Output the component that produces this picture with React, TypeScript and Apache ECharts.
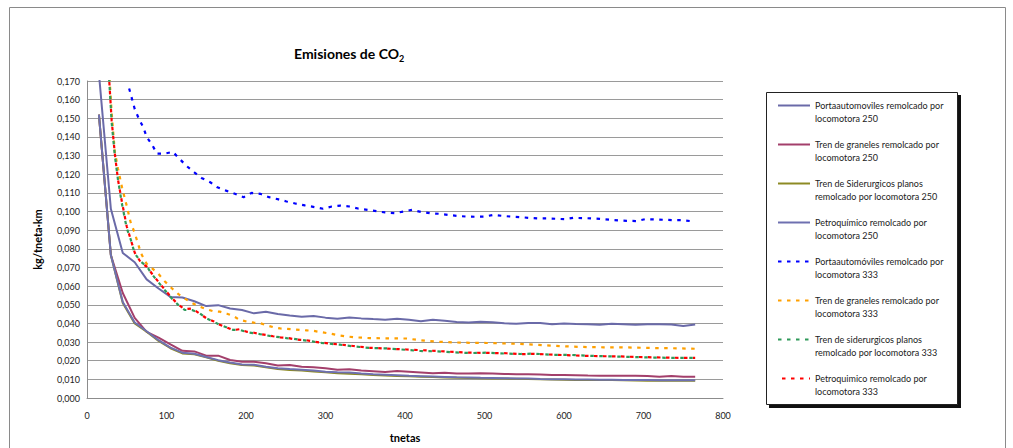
import React, { useEffect, useRef } from "react";
import * as echarts from "echarts";

// ---- data ----
const tnetas250 = [15, 30, 45, 60, 75, 90, 105, 120, 135, 150, 165, 180, 195, 210, 225, 240, 255, 270, 285, 300, 315, 330, 345, 360, 375, 390, 405, 420, 435, 450, 465, 480, 495, 510, 525, 540, 555, 570, 585, 600, 615, 630, 645, 660, 675, 690, 705, 720, 735, 750, 765];

const porta250 = [0.174, 0.1015, 0.0778, 0.0728, 0.0636, 0.0587, 0.0542, 0.0539, 0.0519, 0.0493, 0.0498, 0.048, 0.0472, 0.0454, 0.0463, 0.045, 0.0442, 0.0436, 0.044, 0.0431, 0.0425, 0.0432, 0.0427, 0.0423, 0.042, 0.0425, 0.042, 0.0412, 0.042, 0.0414, 0.0407, 0.0405, 0.0409, 0.0406, 0.0401, 0.0398, 0.0402, 0.0402, 0.0396, 0.04, 0.0397, 0.0396, 0.0393, 0.0398, 0.0396, 0.0393, 0.0396, 0.0396, 0.0394, 0.0386, 0.0394];

const graneles250 = [0.152, 0.0767, 0.0563, 0.043, 0.0355, 0.0324, 0.0288, 0.0253, 0.025, 0.0227, 0.0227, 0.0204, 0.0195, 0.0195, 0.0186, 0.0174, 0.0177, 0.0168, 0.0165, 0.016, 0.0152, 0.0154, 0.0148, 0.0144, 0.014, 0.0145, 0.0141, 0.0137, 0.0133, 0.0136, 0.0132, 0.0131, 0.0133, 0.0131, 0.0129, 0.0127, 0.0127, 0.0126, 0.0124, 0.0123, 0.0122, 0.012, 0.0119, 0.0119, 0.0119, 0.0119, 0.0118, 0.0114, 0.0118, 0.0114, 0.0114];

const siderurgicos250 = [0.152, 0.0767, 0.051, 0.04, 0.0355, 0.0306, 0.0267, 0.0239, 0.0235, 0.0218, 0.02, 0.0186, 0.0177, 0.0174, 0.0165, 0.0156, 0.015, 0.0147, 0.0142, 0.0138, 0.0133, 0.013, 0.0127, 0.0124, 0.0121, 0.0118, 0.0116, 0.0114, 0.0112, 0.011, 0.0109, 0.0107, 0.0106, 0.0105, 0.0104, 0.0103, 0.0102, 0.01, 0.0099, 0.0098, 0.0097, 0.0097, 0.0096, 0.0096, 0.0095, 0.0094, 0.0093, 0.0092, 0.0092, 0.0092, 0.0092];

const petro250 = [0.152, 0.0767, 0.0515, 0.0405, 0.0358, 0.031, 0.027, 0.0243, 0.0237, 0.022, 0.0203, 0.019, 0.018, 0.0178, 0.0168, 0.016, 0.0155, 0.0152, 0.0148, 0.0141, 0.0138, 0.0137, 0.0132, 0.0128, 0.0125, 0.0122, 0.0119, 0.0117, 0.0115, 0.0113, 0.0111, 0.011, 0.0108, 0.0107, 0.0106, 0.0105, 0.0104, 0.0102, 0.0101, 0.01, 0.0099, 0.0099, 0.0098, 0.0098, 0.0097, 0.0096, 0.0096, 0.0095, 0.0095, 0.0095, 0.0095];

const tnetas333 = [22, 28, 31, 35, 39, 44, 50, 55, 60, 68, 75, 82, 90, 98, 107, 115, 123, 132, 142, 150, 159, 167, 176, 184, 192, 201, 210, 218, 226, 234, 243, 251, 260, 268, 276, 285, 293, 305, 318, 335, 356, 377, 402, 419, 440, 461, 482, 503, 528, 545, 562, 587, 608, 629, 650, 671, 692, 713, 735, 755, 765];

const graneles333 = [0.22, 0.174, 0.153, 0.132, 0.123, 0.113, 0.103, 0.094, 0.0885, 0.0775, 0.072, 0.0695, 0.0665, 0.0625, 0.0587, 0.0557, 0.0533, 0.051, 0.049, 0.0477, 0.0465, 0.0463, 0.0452, 0.044, 0.0419, 0.041, 0.0404, 0.0401, 0.039, 0.038, 0.0373, 0.0371, 0.0368, 0.0365, 0.0363, 0.036, 0.0354, 0.0346, 0.0335, 0.0326, 0.0321, 0.032, 0.0319, 0.031, 0.0302, 0.0298, 0.0296, 0.0295, 0.0292, 0.029, 0.0286, 0.028, 0.0276, 0.0273, 0.0272, 0.0272, 0.027, 0.0268, 0.0267, 0.0265, 0.0264];

const siderurgicos333 = [0.215, 0.17, 0.148, 0.13, 0.117, 0.104, 0.091, 0.085, 0.0775, 0.073, 0.0707, 0.0662, 0.062, 0.0578, 0.0532, 0.0498, 0.0472, 0.0472, 0.0454, 0.0427, 0.041, 0.0392, 0.0378, 0.0365, 0.0366, 0.0353, 0.0347, 0.0342, 0.0336, 0.033, 0.0326, 0.0321, 0.0317, 0.0313, 0.0308, 0.0302, 0.0296, 0.0291, 0.0286, 0.0277, 0.0268, 0.0266, 0.0258, 0.0252, 0.025, 0.0245, 0.0241, 0.0243, 0.0238, 0.0236, 0.0238, 0.0231, 0.0231, 0.0227, 0.0224, 0.0222, 0.0219, 0.0217, 0.0215, 0.0215, 0.0215];

const petro333 = [0.215, 0.17, 0.149, 0.131, 0.117, 0.105, 0.092, 0.085, 0.078, 0.0725, 0.0705, 0.0665, 0.0622, 0.058, 0.0535, 0.05, 0.0476, 0.048, 0.0452, 0.0428, 0.0412, 0.0393, 0.0378, 0.0364, 0.0369, 0.0355, 0.035, 0.0343, 0.0338, 0.0331, 0.0325, 0.0323, 0.0316, 0.0312, 0.031, 0.0303, 0.0298, 0.0292, 0.0287, 0.0279, 0.0269, 0.0265, 0.026, 0.0257, 0.0252, 0.0247, 0.0243, 0.0242, 0.024, 0.0235, 0.0237, 0.0232, 0.0229, 0.0226, 0.0224, 0.0223, 0.022, 0.0218, 0.0216, 0.0215, 0.0215];

const tnetasPorta333 = [53, 60, 65, 71, 75, 82, 88, 97, 108, 117, 125, 135, 144, 155, 164, 175, 186, 197, 207, 218, 229, 241, 251, 263, 274, 286, 297, 308, 319, 330, 341, 353, 364, 375, 387, 398, 409, 420, 431, 443, 454, 465, 477, 488, 500, 511, 522, 533, 545, 556, 567, 578, 590, 601, 612, 623, 635, 645, 657, 669, 679, 691, 702, 713, 724, 736, 747, 759];

const porta333 = [0.166, 0.155, 0.15, 0.145, 0.14, 0.1357, 0.131, 0.131, 0.132, 0.128, 0.1245, 0.121, 0.118, 0.1157, 0.113, 0.1112, 0.1095, 0.1077, 0.11, 0.1095, 0.1077, 0.1065, 0.1054, 0.1042, 0.1033, 0.1024, 0.1015, 0.1027, 0.1032, 0.1027, 0.1016, 0.1009, 0.1002, 0.0995, 0.0991, 0.1, 0.1009, 0.0998, 0.0991, 0.0988, 0.0982, 0.0977, 0.0973, 0.0972, 0.0973, 0.0982, 0.0977, 0.0973, 0.097, 0.0966, 0.0963, 0.0963, 0.0961, 0.0959, 0.0966, 0.0965, 0.0963, 0.0961, 0.0956, 0.0952, 0.095, 0.0949, 0.0959, 0.0958, 0.0956, 0.0954, 0.0954, 0.0949];

const seriesNames = [
  "Portaautomoviles remolcado por locomotora 250",
  "Tren de graneles remolcado por locomotora 250",
  "Tren de Siderurgicos planos remolcado por locomotora 250",
  "Petroquímico remolcado por locomotora 250",
  "Portaautomóviles remolcado por locomotora 333",
  "Tren de graneles remolcado por locomotora 333",
  "Tren de siderurgicos planos remolcado por locomotora 333",
  "Petroquimico remolcado por locomotora 333",
];

const legendLines: Record<string, string> = {
  [seriesNames[0]]: "Portaautomoviles remolcado por\nlocomotora 250",
  [seriesNames[1]]: "Tren de graneles remolcado por\nlocomotora 250",
  [seriesNames[2]]: "Tren de Siderurgicos planos\nremolcado por locomotora 250",
  [seriesNames[3]]: "Petroquímico remolcado por\nlocomotora 250",
  [seriesNames[4]]: "Portaautomóviles remolcado por\nlocomotora 333",
  [seriesNames[5]]: "Tren de graneles remolcado por\nlocomotora 333",
  [seriesNames[6]]: "Tren de siderurgicos planos\nremolcado por locomotora 333",
  [seriesNames[7]]: "Petroquimico remolcado por\nlocomotora 333",
};

const yTickMax = 0.17;
const yTickStep = 0.01;
const xTickMax = 800;
const xTickStep = 100;

const FONT = "Lato, 'Open Sans', sans-serif";

function pairs(xs: number[], ys: number[]) {
  return xs.map((x, i) => [x, ys[i]]);
}

export default function App() {
  const ref = useRef<HTMLDivElement>(null);

  useEffect(() => {
    document.body.style.margin = "0";
    if (!ref.current) return;
    const chart = echarts.init(ref.current, null, { renderer: "svg" });

    const solid = (name: string, xs: number[], ys: number[], color: string) => ({
      name,
      type: "line",
      data: pairs(xs, ys),
      symbol: "none",
      showSymbol: false,
      color,
      lineStyle: { color, width: 2 },
    });
    const dotted = (name: string, xs: number[], ys: number[], color: string, offset = 0) => ({
      name,
      type: "line",
      data: pairs(xs, ys),
      symbol: "none",
      showSymbol: false,
      color,
      lineStyle: { color, width: 2.2, type: [3.5, 5.5], dashOffset: offset },
    });

    chart.setOption({
      animation: false,
      backgroundColor: "#ffffff",
      title: {
        text: "{a|Emisiones de CO}{b|2}",
        left: 289,
        top: 37,
        textStyle: {
          rich: {
            a: { fontFamily: FONT, fontWeight: "bold", fontSize: 14, color: "#000", lineHeight: 18, verticalAlign: "bottom" },
            b: { fontFamily: FONT, fontWeight: "bold", fontSize: 9, color: "#000", lineHeight: 12, verticalAlign: "bottom", padding: [0, 0, -3, 0] },
          },
        },
      },
      graphic: [
        { type: "rect", silent: true, z: 0, shape: { x: 9.5, y: 7.5, width: 996, height: 470 }, style: { fill: "none", stroke: "#8a8a8a", lineWidth: 1 } },
        { type: "rect", silent: true, z: 1, shape: { x: 769, y: 95, width: 192, height: 313 }, style: { fill: "#111" } },
        { type: "rect", silent: true, z: 2, shape: { x: 766.5, y: 92.5, width: 191, height: 312 }, style: { fill: "#fff", stroke: "#222", lineWidth: 1 } },
      ],
      legend: {
        z: 10,
        orient: "vertical",
        left: 777,
        top: 86,
        padding: 0,
        itemGap: 0,
        itemWidth: 32,
        itemHeight: 10,
        data: seriesNames,
        itemStyle: { color: "rgba(0,0,0,0)", borderColor: "rgba(0,0,0,0)", borderWidth: 0, opacity: 0 },
        formatter: (name: string) => "\n" + legendLines[name],
        textStyle: { fontFamily: FONT, fontSize: 9, lineHeight: 13, color: "#222" },
      },
      grid: { left: 87, top: 81, width: 636, height: 320, containLabel: false },
      xAxis: {
        type: "value",
        min: 0,
        max: xTickMax,
        interval: xTickStep,
        name: "tnetas",
        nameLocation: "middle",
        nameGap: 34,
        nameTextStyle: { fontFamily: FONT, fontWeight: "bold", fontSize: 11, color: "#000" },
        axisLine: { show: true, lineStyle: { color: "#8c8c8c", width: 1 } },
        axisTick: { show: false },
        splitLine: { show: false },
        axisLabel: { fontFamily: FONT, fontSize: 9, color: "#222", margin: 13 },
      },
      yAxis: {
        type: "value",
        min: 0,
        max: yTickMax,
        interval: yTickStep,
        name: "kg/tneta·km",
        nameLocation: "middle",
        nameRotate: 90,
        nameGap: 44,
        nameTextStyle: { fontFamily: FONT, fontWeight: "bold", fontSize: 11, color: "#000" },
        axisLine: { show: true, lineStyle: { color: "#8c8c8c", width: 1 } },
        axisTick: { show: false },
        splitLine: { show: true, lineStyle: { color: "#9a9a9a", width: 1.2 } },
        axisLabel: {
          fontFamily: FONT,
          fontSize: 9,
          color: "#222",
          margin: 7,
          formatter: (v: number) => v.toFixed(3).replace(".", ","),
        },
      },
      series: [
        solid(seriesNames[0], tnetas250, porta250, "#6a6aa8"),
        solid(seriesNames[1], tnetas250, graneles250, "#a33f6b"),
        solid(seriesNames[2], tnetas250, siderurgicos250, "#8d8a24"),
        solid(seriesNames[3], tnetas250, petro250, "#6e70b0"),
        dotted(seriesNames[4], tnetasPorta333, porta333, "#0000ff"),
        dotted(seriesNames[5], tnetas333, graneles333, "#ffa000"),
        dotted(seriesNames[6], tnetas333, siderurgicos333, "#2e9959"),
        dotted(seriesNames[7], tnetas333, petro333, "#ff0000", 4.5),
      ],
    });

    return () => chart.dispose();
  }, []);

  return <div ref={ref} style={{ width: 1013, height: 448 }} />;
}
